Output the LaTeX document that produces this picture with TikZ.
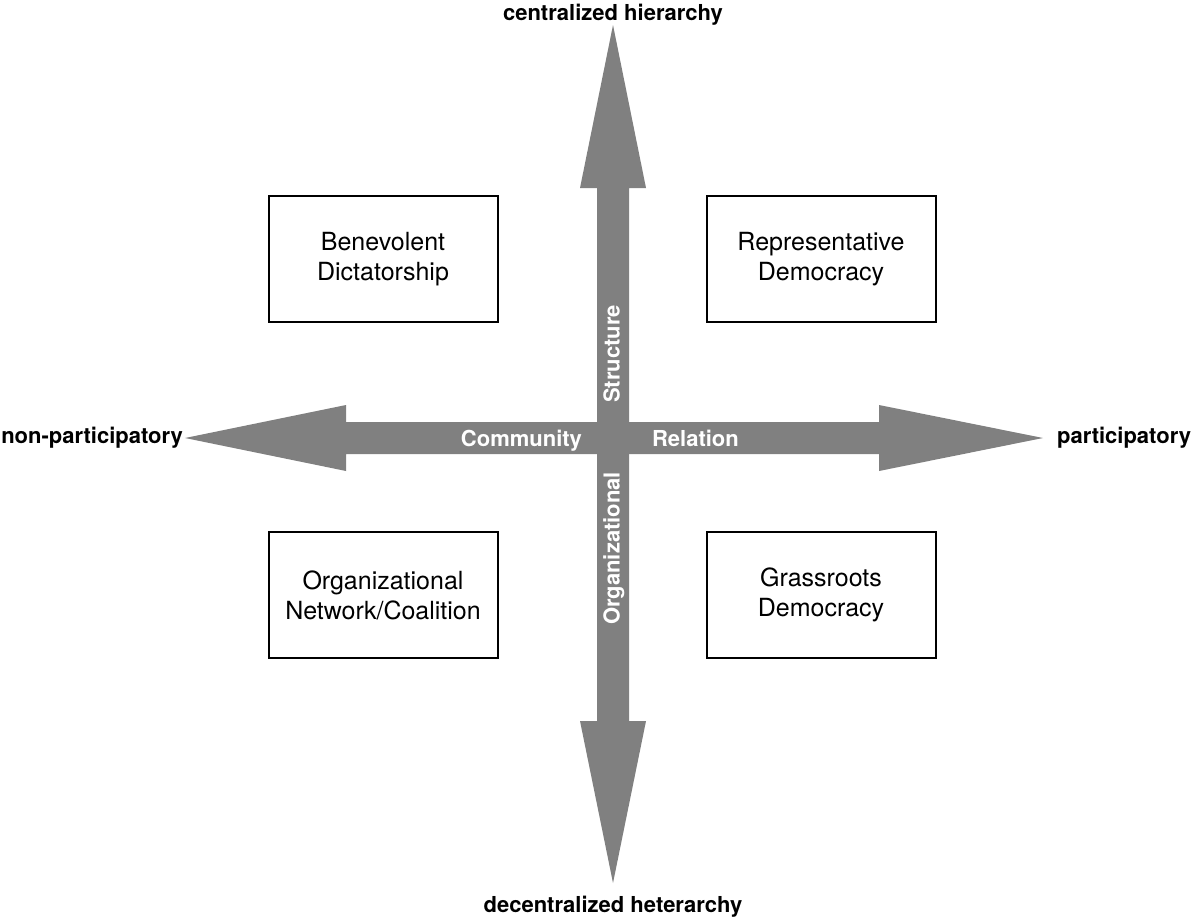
\documentclass[tikz,border=0pt]{standalone}
\usepackage{fontspec}
\setmainfont{TeX Gyre Heros}

\begin{document}
\begin{tikzpicture}[x=0.5pt, y=-0.5pt,
	quadrant/.style={draw, line width=1pt, minimum width=114.5pt, minimum height=63pt,
		align=center, font=\fontsize{12.5}{15}\selectfont},
	pole/.style={font=\bfseries\fontsize{11}{13}\selectfont},
	axislabel/.style={text=white, text height=8pt, text depth=2.4pt,
		font=\bfseries\fontsize{11}{13}\selectfont}]
	\useasboundingbox (0,0) rectangle (1192,921);

	% Draw the two big double arrows crossing at the centre
	\coordinate (C) at (613,438);
	\fill[black!50] (613,25) -- (646,188) -- (629,188) -- (629,721) -- (646,721)
		-- (613,883) -- (580,721) -- (597,721) -- (597,188) -- (580,188) -- cycle;
	\fill[black!50] (185,438) -- (346,405) -- (346,422) -- (879,422) -- (879,405)
		-- (1043,438) -- (879,471) -- (879,454) -- (346,454) -- (346,471) -- cycle;

	% Names of the two axes, written on the arrows
	\node[axislabel, anchor=east] (community) at (589,441) {Community};
	\node[axislabel, anchor=west] (relation) at (645,441) {Relation};
	\node[axislabel, rotate=90, anchor=west] (structure) at (614,410) {Structure};
	\node[axislabel, rotate=90, anchor=west] (organizational) at (614,632) {Organizational};

	% Ends of the axes
	\node[pole] (centralized) at (613,15) {centralized hierarchy};
	\node[pole] (decentralized) at (613,907) {decentralized heterarchy};
	\node[pole, anchor=east] (nonpart) at (190,438) {non-participatory};
	\node[pole, anchor=west] (part) at (1050,438) {participatory};

	% The four quadrants
	\node[quadrant] (benevolent) at (383,259) {Benevolent\\Dictatorship};
	\node[quadrant] (representative) at (821,259) {Representative\\Democracy};
	\node[quadrant] (network) at (383,595) {Organizational\\Network/Coalition};
	\node[quadrant] (grassroots) at (821,595) {Grassroots\\Democracy};
\end{tikzpicture}
\end{document}
